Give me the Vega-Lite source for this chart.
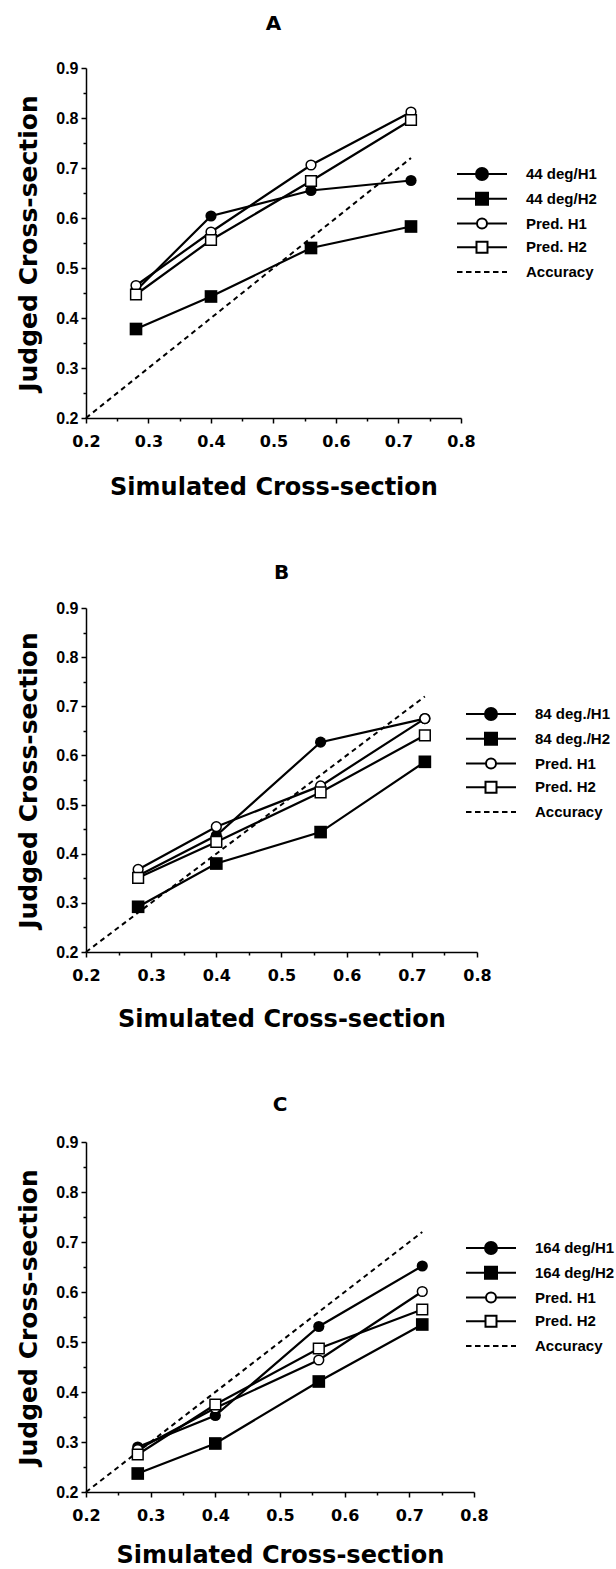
{
  "$schema": "https://vega.github.io/schema/vega-lite/v6.json",
  "background": "white",
  "padding": {"left": 16, "top": 14, "right": 0, "bottom": 0},
  "spacing": 64,
  "config": {
    "view": {"stroke": null},
    "font": "Liberation Sans",
    "axis": {
      "domainColor": "black", "domainWidth": 1.5, "tickColor": "black", "tickWidth": 1.5,
      "grid": false, "labelFont": "Liberation Sans", "labelFontWeight": "bold", "labelColor": "black",
      "labelFontSize": 16, "labelFlush": false, "labelOverlap": false,
      "titleFont": "DejaVu Sans", "titleFontWeight": "bold", "titleColor": "black", "titleFontSize": 24
    },
    "axisX": {"labelFont": "DejaVu Sans", "labelPadding": 10, "titlePadding": 24},
    "axisY": {"labelPadding": 3, "titlePadding": 14, "titleFontSize": 25},
    "title": {"fontSize": 20, "font": "DejaVu Sans", "fontWeight": "bold", "offset": 30, "color": "black"},
    "legend": {
      "orient": "none", "symbolSize": 400, "symbolStrokeWidth": 2,
      "symbolStrokeColor": "black", "labelFontSize": 15, "labelFont": "Liberation Sans", "labelFontWeight": "bold",
      "labelColor": "black", "labelOffset": 48, "rowPadding": 3.75, "padding": 0, "title": null
    }
  },
  "datasets": {
    "A": [
      {"x": 0.2, "y": 0.2, "series": "Accuracy", "kind": "acc", "hyp": "-"},
      {"x": 0.72, "y": 0.72, "series": "Accuracy", "kind": "acc", "hyp": "-"},
      {"x": 0.28, "y": 0.455, "series": "44 deg/H1", "kind": "obs", "hyp": "H1"},
      {"x": 0.40, "y": 0.604, "series": "44 deg/H1", "kind": "obs", "hyp": "H1"},
      {"x": 0.56, "y": 0.655, "series": "44 deg/H1", "kind": "obs", "hyp": "H1"},
      {"x": 0.72, "y": 0.675, "series": "44 deg/H1", "kind": "obs", "hyp": "H1"},
      {"x": 0.28, "y": 0.378, "series": "44 deg/H2", "kind": "obs", "hyp": "H2"},
      {"x": 0.40, "y": 0.443, "series": "44 deg/H2", "kind": "obs", "hyp": "H2"},
      {"x": 0.56, "y": 0.540, "series": "44 deg/H2", "kind": "obs", "hyp": "H2"},
      {"x": 0.72, "y": 0.583, "series": "44 deg/H2", "kind": "obs", "hyp": "H2"},
      {"x": 0.28, "y": 0.465, "series": "Pred. H1", "kind": "pred", "hyp": "H1"},
      {"x": 0.40, "y": 0.572, "series": "Pred. H1", "kind": "pred", "hyp": "H1"},
      {"x": 0.56, "y": 0.706, "series": "Pred. H1", "kind": "pred", "hyp": "H1"},
      {"x": 0.72, "y": 0.812, "series": "Pred. H1", "kind": "pred", "hyp": "H1"},
      {"x": 0.28, "y": 0.447, "series": "Pred. H2", "kind": "pred", "hyp": "H2"},
      {"x": 0.40, "y": 0.556, "series": "Pred. H2", "kind": "pred", "hyp": "H2"},
      {"x": 0.56, "y": 0.674, "series": "Pred. H2", "kind": "pred", "hyp": "H2"},
      {"x": 0.72, "y": 0.796, "series": "Pred. H2", "kind": "pred", "hyp": "H2"}
    ],
    "B": [
      {"x": 0.2, "y": 0.2, "series": "Accuracy", "kind": "acc", "hyp": "-"},
      {"x": 0.72, "y": 0.72, "series": "Accuracy", "kind": "acc", "hyp": "-"},
      {"x": 0.28, "y": 0.355, "series": "84 deg./H1", "kind": "obs", "hyp": "H1"},
      {"x": 0.40, "y": 0.437, "series": "84 deg./H1", "kind": "obs", "hyp": "H1"},
      {"x": 0.56, "y": 0.627, "series": "84 deg./H1", "kind": "obs", "hyp": "H1"},
      {"x": 0.72, "y": 0.675, "series": "84 deg./H1", "kind": "obs", "hyp": "H1"},
      {"x": 0.28, "y": 0.292, "series": "84 deg./H2", "kind": "obs", "hyp": "H2"},
      {"x": 0.40, "y": 0.380, "series": "84 deg./H2", "kind": "obs", "hyp": "H2"},
      {"x": 0.56, "y": 0.444, "series": "84 deg./H2", "kind": "obs", "hyp": "H2"},
      {"x": 0.72, "y": 0.587, "series": "84 deg./H2", "kind": "obs", "hyp": "H2"},
      {"x": 0.28, "y": 0.368, "series": "Pred. H1", "kind": "pred", "hyp": "H1"},
      {"x": 0.40, "y": 0.455, "series": "Pred. H1", "kind": "pred", "hyp": "H1"},
      {"x": 0.56, "y": 0.538, "series": "Pred. H1", "kind": "pred", "hyp": "H1"},
      {"x": 0.72, "y": 0.675, "series": "Pred. H1", "kind": "pred", "hyp": "H1"},
      {"x": 0.28, "y": 0.351, "series": "Pred. H2", "kind": "pred", "hyp": "H2"},
      {"x": 0.40, "y": 0.424, "series": "Pred. H2", "kind": "pred", "hyp": "H2"},
      {"x": 0.56, "y": 0.525, "series": "Pred. H2", "kind": "pred", "hyp": "H2"},
      {"x": 0.72, "y": 0.641, "series": "Pred. H2", "kind": "pred", "hyp": "H2"}
    ],
    "C": [
      {"x": 0.2, "y": 0.2, "series": "Accuracy", "kind": "acc", "hyp": "-"},
      {"x": 0.72, "y": 0.72, "series": "Accuracy", "kind": "acc", "hyp": "-"},
      {"x": 0.28, "y": 0.290, "series": "164 deg/H1", "kind": "obs", "hyp": "H1"},
      {"x": 0.40, "y": 0.353, "series": "164 deg/H1", "kind": "obs", "hyp": "H1"},
      {"x": 0.56, "y": 0.531, "series": "164 deg/H1", "kind": "obs", "hyp": "H1"},
      {"x": 0.72, "y": 0.652, "series": "164 deg/H1", "kind": "obs", "hyp": "H1"},
      {"x": 0.28, "y": 0.237, "series": "164 deg/H2", "kind": "obs", "hyp": "H2"},
      {"x": 0.40, "y": 0.297, "series": "164 deg/H2", "kind": "obs", "hyp": "H2"},
      {"x": 0.56, "y": 0.421, "series": "164 deg/H2", "kind": "obs", "hyp": "H2"},
      {"x": 0.72, "y": 0.535, "series": "164 deg/H2", "kind": "obs", "hyp": "H2"},
      {"x": 0.28, "y": 0.285, "series": "Pred. H1", "kind": "pred", "hyp": "H1"},
      {"x": 0.40, "y": 0.368, "series": "Pred. H1", "kind": "pred", "hyp": "H1"},
      {"x": 0.56, "y": 0.464, "series": "Pred. H1", "kind": "pred", "hyp": "H1"},
      {"x": 0.72, "y": 0.601, "series": "Pred. H1", "kind": "pred", "hyp": "H1"},
      {"x": 0.28, "y": 0.275, "series": "Pred. H2", "kind": "pred", "hyp": "H2"},
      {"x": 0.40, "y": 0.375, "series": "Pred. H2", "kind": "pred", "hyp": "H2"},
      {"x": 0.56, "y": 0.487, "series": "Pred. H2", "kind": "pred", "hyp": "H2"},
      {"x": 0.72, "y": 0.565, "series": "Pred. H2", "kind": "pred", "hyp": "H2"}
    ]
  },
  "resolve": {"scale": {"shape": "independent", "fill": "independent", "stroke": "independent"}, "legend": {"shape": "independent", "fill": "independent", "stroke": "independent"}},
  "vconcat": [
    {
      "width": 375, "height": 350,
      "title": {"text": "A", "offset": 26},
      "data": {"name": "A"},
      "encoding": {
        "x": {"field": "x", "type": "quantitative", "title": "Simulated Cross-section",
          "scale": {"domain": [0.2, 0.8], "nice": false, "zero": false},
          "axis": {"titlePadding": 26, "values": [0.2,0.25,0.3,0.35,0.4,0.45,0.5,0.55,0.6,0.65,0.7,0.75,0.8],
            "labelExpr": "abs(datum.value*10-round(datum.value*10))<0.01 ? format(datum.value,'.1f') : ''",
            "tickSize": {"condition": {"test": "abs(datum.value*10-round(datum.value*10))<0.01", "value": 5}, "value": 3}}},
        "y": {"field": "y", "type": "quantitative", "title": "Judged Cross-section",
          "scale": {"domain": [0.2, 0.9], "nice": false, "zero": false},
          "axis": {"values": [0.2,0.25,0.3,0.35,0.4,0.45,0.5,0.55,0.6,0.65,0.7,0.75,0.8,0.85,0.9],
            "labelExpr": "abs(datum.value*10-round(datum.value*10))<0.01 ? format(datum.value,'.1f') : ''",
            "tickSize": {"condition": {"test": "abs(datum.value*10-round(datum.value*10))<0.01", "value": 5}, "value": 3}}}
      },
      "layer": [
        {"transform": [{"filter": "datum.kind == 'acc'"}], "mark": {"type": "line", "strokeDash": [5, 4], "strokeWidth": 2, "color": "black"}},
        {"transform": [{"filter": "datum.kind != 'acc'"}], "mark": {"type": "line", "strokeWidth": 2.2, "color": "black"}, "encoding": {"detail": {"field": "series"}}},
        {"transform": [{"filter": "datum.kind == 'obs' && datum.hyp == 'H1'"}], "mark": {"type": "point", "shape": "circle", "filled": true, "fill": "black", "size": 125, "opacity": 1}},
        {"transform": [{"filter": "datum.kind == 'obs' && datum.hyp == 'H2'"}], "mark": {"type": "point", "shape": "square", "filled": true, "fill": "black", "size": 160, "opacity": 1}},
        {"transform": [{"filter": "datum.kind == 'pred' && datum.hyp == 'H1'"}], "mark": {"type": "point", "shape": "circle", "filled": true, "fill": "white", "stroke": "black", "strokeWidth": 1.5, "size": 95, "opacity": 1}},
        {"transform": [{"filter": "datum.kind == 'pred' && datum.hyp == 'H2'"}], "mark": {"type": "point", "shape": "square", "filled": true, "fill": "white", "stroke": "black", "strokeWidth": 1.5, "size": 115, "opacity": 1}},
        {"transform": [{"filter": "false"}], "mark": {"type": "point", "filled": false, "strokeWidth": 2, "opacity": 1},
          "encoding": {
            "shape": {"field": "series", "type": "nominal",
              "scale": {"domain": ["44 deg/H1", "44 deg/H2", "Pred. H1", "Pred. H2", "Accuracy"],
                "range": ["M-1,0H0.9M2.1,0H4M2.1,0A0.6,0.6,0,1,1,0.9,0A0.6,0.6,0,1,1,2.1,0Z", "M-1,0H0.9M2.1,0H4M0.9,-0.6H2.1V0.6H0.9Z", "M-1,0H1M2,0H4M2,0A0.5,0.5,0,1,1,1,0A0.5,0.5,0,1,1,2,0Z", "M-1,0H0.95M2.05,0H4M0.95,-0.55H2.05V0.55H0.95Z", "M-1,0H-0.45M-0.1,0H0.45M0.8,0H1.35M1.7,0H2.25M2.6,0H3.15M3.5,0H4"]},
              "legend": {"legendX": 370, "legendY": 95}},
            "fill": {"field": "series", "type": "nominal",
              "scale": {"domain": ["44 deg/H1", "44 deg/H2", "Pred. H1", "Pred. H2", "Accuracy"], "range": ["black", "black", "white", "white", "white"]},
              "legend": {"legendX": 370, "legendY": 95}},
            "stroke": {"field": "series", "type": "nominal",
              "scale": {"domain": ["44 deg/H1", "44 deg/H2", "Pred. H1", "Pred. H2", "Accuracy"], "range": ["black", "black", "black", "black", "black"]},
              "legend": {"legendX": 370, "legendY": 95}}
          }}
      ]
    },
    {
      "width": 391, "height": 344,
      "title": {"text": "B", "offset": 17},
      "data": {"name": "B"},
      "encoding": {
        "x": {"field": "x", "type": "quantitative", "title": "Simulated Cross-section",
          "scale": {"domain": [0.2, 0.8], "nice": false, "zero": false},
          "axis": {"values": [0.2,0.25,0.3,0.35,0.4,0.45,0.5,0.55,0.6,0.65,0.7,0.75,0.8],
            "labelExpr": "abs(datum.value*10-round(datum.value*10))<0.01 ? format(datum.value,'.1f') : ''",
            "tickSize": {"condition": {"test": "abs(datum.value*10-round(datum.value*10))<0.01", "value": 5}, "value": 3}}},
        "y": {"field": "y", "type": "quantitative", "title": "Judged Cross-section",
          "scale": {"domain": [0.2, 0.9], "nice": false, "zero": false},
          "axis": {"values": [0.2,0.25,0.3,0.35,0.4,0.45,0.5,0.55,0.6,0.65,0.7,0.75,0.8,0.85,0.9],
            "labelExpr": "abs(datum.value*10-round(datum.value*10))<0.01 ? format(datum.value,'.1f') : ''",
            "tickSize": {"condition": {"test": "abs(datum.value*10-round(datum.value*10))<0.01", "value": 5}, "value": 3}}}
      },
      "layer": [
        {"transform": [{"filter": "datum.kind == 'acc'"}], "mark": {"type": "line", "strokeDash": [5, 4], "strokeWidth": 2, "color": "black"}},
        {"transform": [{"filter": "datum.kind != 'acc'"}], "mark": {"type": "line", "strokeWidth": 2.2, "color": "black"}, "encoding": {"detail": {"field": "series"}}},
        {"transform": [{"filter": "datum.kind == 'obs' && datum.hyp == 'H1'"}], "mark": {"type": "point", "shape": "circle", "filled": true, "fill": "black", "size": 125, "opacity": 1}},
        {"transform": [{"filter": "datum.kind == 'obs' && datum.hyp == 'H2'"}], "mark": {"type": "point", "shape": "square", "filled": true, "fill": "black", "size": 160, "opacity": 1}},
        {"transform": [{"filter": "datum.kind == 'pred' && datum.hyp == 'H1'"}], "mark": {"type": "point", "shape": "circle", "filled": true, "fill": "white", "stroke": "black", "strokeWidth": 1.5, "size": 95, "opacity": 1}},
        {"transform": [{"filter": "datum.kind == 'pred' && datum.hyp == 'H2'"}], "mark": {"type": "point", "shape": "square", "filled": true, "fill": "white", "stroke": "black", "strokeWidth": 1.5, "size": 115, "opacity": 1}},
        {"transform": [{"filter": "false"}], "mark": {"type": "point", "filled": false, "strokeWidth": 2, "opacity": 1},
          "encoding": {
            "shape": {"field": "series", "type": "nominal",
              "scale": {"domain": ["84 deg./H1", "84 deg./H2", "Pred. H1", "Pred. H2", "Accuracy"],
                "range": ["M-1,0H0.9M2.1,0H4M2.1,0A0.6,0.6,0,1,1,0.9,0A0.6,0.6,0,1,1,2.1,0Z", "M-1,0H0.9M2.1,0H4M0.9,-0.6H2.1V0.6H0.9Z", "M-1,0H1M2,0H4M2,0A0.5,0.5,0,1,1,1,0A0.5,0.5,0,1,1,2,0Z", "M-1,0H0.95M2.05,0H4M0.95,-0.55H2.05V0.55H0.95Z", "M-1,0H-0.45M-0.1,0H0.45M0.8,0H1.35M1.7,0H2.25M2.6,0H3.15M3.5,0H4"]},
              "legend": {"legendX": 379, "legendY": 95}},
            "fill": {"field": "series", "type": "nominal",
              "scale": {"domain": ["84 deg./H1", "84 deg./H2", "Pred. H1", "Pred. H2", "Accuracy"], "range": ["black", "black", "white", "white", "white"]},
              "legend": {"legendX": 379, "legendY": 95}},
            "stroke": {"field": "series", "type": "nominal",
              "scale": {"domain": ["84 deg./H1", "84 deg./H2", "Pred. H1", "Pred. H2", "Accuracy"], "range": ["black", "black", "black", "black", "black"]},
              "legend": {"legendX": 379, "legendY": 95}}
          }}
      ]
    },
    {
      "width": 388, "height": 350,
      "title": {"text": "C", "offset": 19},
      "data": {"name": "C"},
      "encoding": {
        "x": {"field": "x", "type": "quantitative", "title": "Simulated Cross-section",
          "scale": {"domain": [0.2, 0.8], "nice": false, "zero": false},
          "axis": {"titlePadding": 20, "values": [0.2,0.25,0.3,0.35,0.4,0.45,0.5,0.55,0.6,0.65,0.7,0.75,0.8],
            "labelExpr": "abs(datum.value*10-round(datum.value*10))<0.01 ? format(datum.value,'.1f') : ''",
            "tickSize": {"condition": {"test": "abs(datum.value*10-round(datum.value*10))<0.01", "value": 5}, "value": 3}}},
        "y": {"field": "y", "type": "quantitative", "title": "Judged Cross-section",
          "scale": {"domain": [0.2, 0.9], "nice": false, "zero": false},
          "axis": {"values": [0.2,0.25,0.3,0.35,0.4,0.45,0.5,0.55,0.6,0.65,0.7,0.75,0.8,0.85,0.9],
            "labelExpr": "abs(datum.value*10-round(datum.value*10))<0.01 ? format(datum.value,'.1f') : ''",
            "tickSize": {"condition": {"test": "abs(datum.value*10-round(datum.value*10))<0.01", "value": 5}, "value": 3}}}
      },
      "layer": [
        {"transform": [{"filter": "datum.kind == 'acc'"}], "mark": {"type": "line", "strokeDash": [5, 4], "strokeWidth": 2, "color": "black"}},
        {"transform": [{"filter": "datum.kind != 'acc'"}], "mark": {"type": "line", "strokeWidth": 2.2, "color": "black"}, "encoding": {"detail": {"field": "series"}}},
        {"transform": [{"filter": "datum.kind == 'obs' && datum.hyp == 'H1'"}], "mark": {"type": "point", "shape": "circle", "filled": true, "fill": "black", "size": 125, "opacity": 1}},
        {"transform": [{"filter": "datum.kind == 'obs' && datum.hyp == 'H2'"}], "mark": {"type": "point", "shape": "square", "filled": true, "fill": "black", "size": 160, "opacity": 1}},
        {"transform": [{"filter": "datum.kind == 'pred' && datum.hyp == 'H1'"}], "mark": {"type": "point", "shape": "circle", "filled": true, "fill": "white", "stroke": "black", "strokeWidth": 1.5, "size": 95, "opacity": 1}},
        {"transform": [{"filter": "datum.kind == 'pred' && datum.hyp == 'H2'"}], "mark": {"type": "point", "shape": "square", "filled": true, "fill": "white", "stroke": "black", "strokeWidth": 1.5, "size": 115, "opacity": 1}},
        {"transform": [{"filter": "false"}], "mark": {"type": "point", "filled": false, "strokeWidth": 2, "opacity": 1},
          "encoding": {
            "shape": {"field": "series", "type": "nominal",
              "scale": {"domain": ["164 deg/H1", "164 deg/H2", "Pred. H1", "Pred. H2", "Accuracy"],
                "range": ["M-1,0H0.9M2.1,0H4M2.1,0A0.6,0.6,0,1,1,0.9,0A0.6,0.6,0,1,1,2.1,0Z", "M-1,0H0.9M2.1,0H4M0.9,-0.6H2.1V0.6H0.9Z", "M-1,0H1M2,0H4M2,0A0.5,0.5,0,1,1,1,0A0.5,0.5,0,1,1,2,0Z", "M-1,0H0.95M2.05,0H4M0.95,-0.55H2.05V0.55H0.95Z", "M-1,0H-0.45M-0.1,0H0.45M0.8,0H1.35M1.7,0H2.25M2.6,0H3.15M3.5,0H4"]},
              "legend": {"legendX": 379, "legendY": 95}},
            "fill": {"field": "series", "type": "nominal",
              "scale": {"domain": ["164 deg/H1", "164 deg/H2", "Pred. H1", "Pred. H2", "Accuracy"], "range": ["black", "black", "white", "white", "white"]},
              "legend": {"legendX": 379, "legendY": 95}},
            "stroke": {"field": "series", "type": "nominal",
              "scale": {"domain": ["164 deg/H1", "164 deg/H2", "Pred. H1", "Pred. H2", "Accuracy"], "range": ["black", "black", "black", "black", "black"]},
              "legend": {"legendX": 379, "legendY": 95}}
          }}
      ]
    }
  ]
}
